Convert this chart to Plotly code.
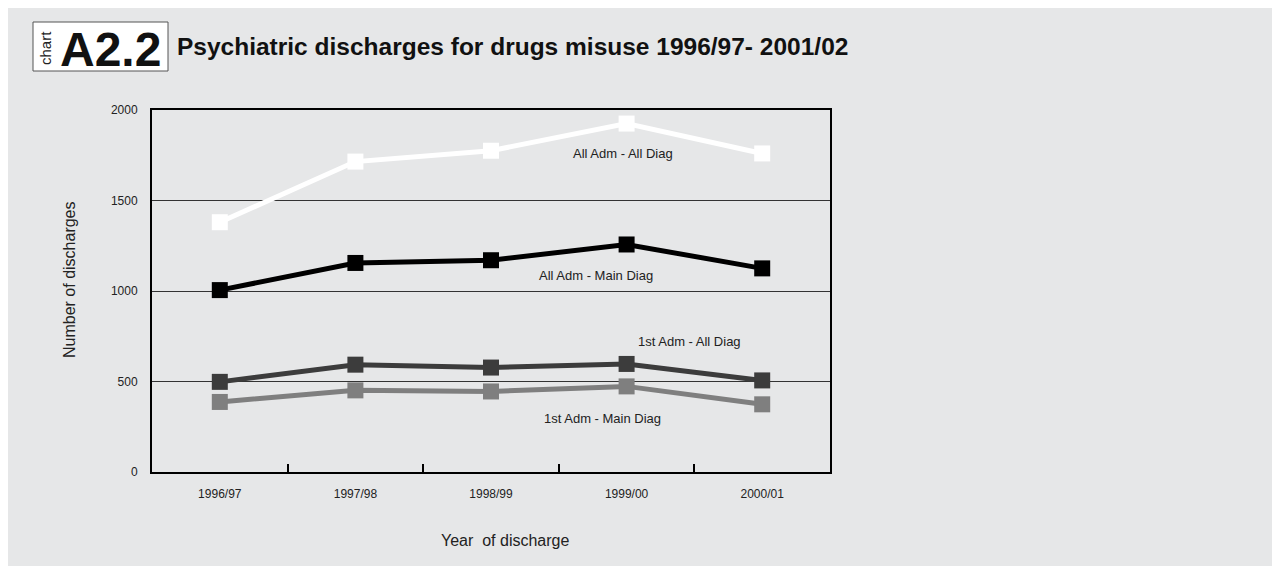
import plotly.graph_objects as go

years = ["1996/97", "1997/98", "1998/99", "1999/00", "2000/01"]
all_adm_all_diag = [1380, 1715, 1775, 1925, 1760]
all_adm_main_diag = [1005, 1155, 1170, 1257, 1125]
first_adm_all_diag = [498, 593, 577, 597, 506]
first_adm_main_diag = [387, 451, 445, 473, 374]

series_names = ["All Adm - All Diag", "All Adm - Main Diag", "1st Adm - All Diag", "1st Adm - Main Diag"]
series_values = [all_adm_all_diag, all_adm_main_diag, first_adm_all_diag, first_adm_main_diag]
series_colors = ["#ffffff", "#000000", "#3c3c3c", "#7f7f7f"]
# label centres in screen pixels
label_px = [(623, 153), (596, 275), (689, 341), (602, 418)]

BG = "#e6e7e8"
FONT = "Liberation Sans, Arial, sans-serif"

fig = go.Figure()
for name, vals, col in zip(series_names, series_values, series_colors):
    fig.add_trace(go.Scatter(
        x=years, y=vals, mode="lines+markers", name=name,
        line=dict(color=col, width=5),
        marker=dict(symbol="square", size=16, color=col, line=dict(width=0)),
        showlegend=False, cliponaxis=False,
    ))

OFF = 8  # page body margin
W, H = 1280 - OFF, 566 - OFF
L, R, T, B = 152, 830, 110, 472  # screen pixels
pw, ph = R - L, B - T

def px(x):
    return (x - L) / pw

def py(y):
    return (B - y) / ph

shapes = [
    dict(type="rect", xref="paper", yref="paper", x0=px(7), x1=px(1275), y0=py(566), y1=py(7),
         fillcolor=BG, line=dict(width=0), layer="below"),
    dict(type="rect", xref="paper", yref="paper", x0=px(33), x1=px(168), y0=py(71), y1=py(22),
         fillcolor="#ffffff", line=dict(width=1, color="#555555"), layer="below"),
]

annotations = []
for name, (ax, ay) in zip(series_names, label_px):
    annotations.append(dict(text=name, xref="paper", yref="paper", x=px(ax), y=py(ay), showarrow=False,
                            xanchor="center", yanchor="middle", font=dict(size=13, color="#222222", family=FONT)))

annotations += [
    dict(text="Number of discharges", xref="paper", yref="paper", x=px(69), y=py(280), textangle=-90,
         showarrow=False, xanchor="center", yanchor="middle", font=dict(size=16, color="#222222", family=FONT)),
    dict(text="Year  of discharge", xref="paper", yref="paper", x=px(505), y=py(540),
         showarrow=False, xanchor="center", yanchor="middle", font=dict(size=16, color="#222222", family=FONT)),
    dict(text="<b>A2.2</b>", xref="paper", yref="paper", x=px(110), y=py(49),
         showarrow=False, xanchor="center", yanchor="middle", font=dict(size=48, color="#111111", family=FONT)),
    dict(text="chart", xref="paper", yref="paper", x=px(45), y=py(48), textangle=-90,
         showarrow=False, xanchor="center", yanchor="middle", font=dict(size=15, color="#222222", family=FONT)),
    dict(text="<b>Psychiatric discharges for drugs misuse 1996/97- 2001/02</b>", xref="paper", yref="paper",
         x=px(175), y=py(47), showarrow=False, xanchor="left", yanchor="middle",
         font=dict(size=24.5, color="#111111", family=FONT)),
]

fig.update_layout(
    width=W, height=H,
    margin=dict(l=L - OFF, r=1280 - R, t=T - OFF, b=566 - B, pad=0),
    paper_bgcolor="#ffffff", plot_bgcolor=BG,
    font=dict(family=FONT, size=12, color="#222222"),
    shapes=shapes, annotations=annotations,
    xaxis=dict(type="category", range=[-0.5, 4.5], showline=True, linecolor="#000000", linewidth=2,
               mirror=True, showgrid=False, tickson="boundaries", ticks="inside", ticklen=8,
               tickwidth=2, tickcolor="#000000", ticklabelstandoff=10,
               tickfont=dict(size=12, color="#222222")),
    yaxis=dict(range=[0, 2000], tickvals=[0, 500, 1000, 1500, 2000], showline=True, linecolor="#000000",
               linewidth=2, mirror=True, showgrid=True, gridcolor="#333333", gridwidth=1, zeroline=False,
               ticks="", ticklabelstandoff=10, tickfont=dict(size=12, color="#222222")),
)

fig.write_html("out.html")
